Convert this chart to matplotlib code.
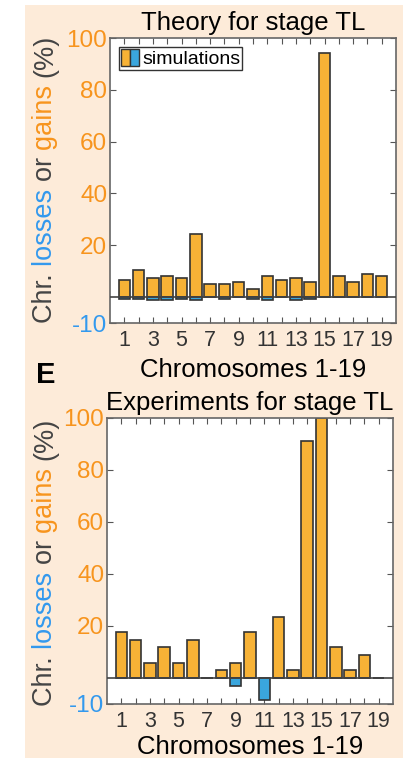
import numpy as np
import matplotlib
matplotlib.use("Agg")
import matplotlib.pyplot as plt
from matplotlib.patches import Patch, Rectangle
from matplotlib.legend_handler import HandlerTuple

plt.rcParams['font.family'] = ['Liberation Sans', 'DejaVu Sans']

# --- data ---
chromosomes = np.arange(1, 20)
theory_gains = [6.6, 10.4, 7.3, 8.3, 7.3, 24.2, 5.0, 5.0, 5.7, 3.3,
                8.3, 6.6, 7.3, 5.7, 94.3, 8.3, 5.7, 9.0, 8.3]
theory_losses = [-0.6, -0.6, -1.3, -1.3, -0.6, -1.3, 0, -0.6, 0, -0.6,
                 -1.3, 0, -1.3, -0.6, 0, 0, 0, 0, 0]
exp_gains = [17.6, 14.7, 5.9, 11.8, 5.9, 14.7, 0, 2.9, 5.9, 17.6,
             0, 23.5, 2.9, 91.2, 100, 11.8, 2.9, 8.8, 0]
exp_losses = [0, 0, 0, 0, 0, 0, 0, 0, -3.2, 0,
              -8.5, 0, 0, 0, 0, 0, 0, 0, 0]
xtick_labels = [str(c) if c % 2 == 1 else '' for c in chromosomes]
ytick_vals = [-10, 20, 40, 60, 80, 100]

ORANGE = '#F7B236'
ORANGE_TXT = '#F7941D'
BLUE = '#3AA6DD'
BLUE_TXT = '#3399EE'
DARK = '#333333'
PEACH = '#FDEBD9'

fig = plt.figure(figsize=(4.03, 7.58), dpi=100)
fig.patch.set_facecolor('white')
fig.patches.append(Rectangle((25 / 403, 0), 1, 1 - 5 / 758, transform=fig.transFigure,
                             facecolor=PEACH, edgecolor='none', zorder=-10))


def panel(rect, gains, losses, title, labelpad):
    ax = fig.add_axes(rect)
    ax.bar(chromosomes, gains, width=0.8, color=ORANGE, edgecolor=DARK, linewidth=1.2, zorder=2)
    ax.bar(chromosomes, losses, width=0.8, color=BLUE, edgecolor=DARK, linewidth=1.2, zorder=2)
    ax.axhline(0, color='#444444', linewidth=1.2, zorder=3)
    ax.set_xlim(0, 20)
    ax.set_ylim(-10, 100)
    ax.set_xticks(chromosomes)
    ax.set_xticklabels(xtick_labels)
    ax.set_yticks(ytick_vals)
    ax.set_yticklabels([str(v) for v in ytick_vals])
    ax.tick_params(direction='in', top=True, right=True, length=4, width=0.8,
                   color='#555555')
    ax.tick_params(axis='x', labelsize=15.5, labelcolor=DARK, pad=5)
    ax.tick_params(axis='y', labelsize=17.5, pad=2)
    for lab, v in zip(ax.get_yticklabels(), ytick_vals):
        lab.set_color(BLUE_TXT if v < 0 else ORANGE_TXT)
    for s in ax.spines.values():
        s.set_color('#666666')
        s.set_linewidth(1.2)
    ax.set_title(title, fontsize=18.5, color='black', pad=6)
    ax.set_xlabel('Chromosomes 1-19', fontsize=18.5, color='black', labelpad=labelpad)
    return ax


ax1 = panel([110 / 403, 1 - 323 / 758, 286 / 403, 285 / 758],
            theory_gains, theory_losses, 'Theory for stage TL', 5)
ax2 = panel([107 / 403, 1 - 704 / 758, 286 / 403, 286 / 758],
            exp_gains, exp_losses, 'Experiments for stage TL', 2.5)

h = (Patch(facecolor=ORANGE, edgecolor=DARK, linewidth=1),
     Patch(facecolor=BLUE, edgecolor=DARK, linewidth=1))
leg = ax1.legend([h], ['simulations'], handler_map={tuple: HandlerTuple(ndivide=None, pad=0)},
                 loc='upper left', fontsize=14, frameon=True, fancybox=False,
                 handlelength=0.95, handleheight=1.0, handletextpad=0.15,
                 borderpad=0.1, borderaxespad=0.45)
leg.get_frame().set_edgecolor('black')
leg.get_frame().set_linewidth(1.0)

fig.text(36 / 403, 1 - 383 / 758, 'E', fontsize=21, fontweight='bold', color='black')

# multicoloured y label, built piece by piece
pieces = [('Chr. ', '#444444'), ('losses ', BLUE_TXT), ('or ', '#444444'),
          ('gains ', ORANGE_TXT), ('(%)', '#444444')]


def color_ylabel(xc, yc):
    fig.canvas.draw()
    r = fig.canvas.get_renderer()
    texts = []
    for s, c in pieces:
        t = fig.text(0, 0, s, rotation=90, fontsize=19.5, color=c,
                     ha='center', va='bottom', transform=None)
        texts.append(t)
    heights = [t.get_window_extent(r).height for t in texts]
    y0 = (758 - yc) - sum(heights) / 2
    for t, hh in zip(texts, heights):
        t.set_position((xc, y0))
        y0 += hh


color_ylabel(45, 179)
color_ylabel(45, 562)

fig.savefig('out.png', dpi=100)
